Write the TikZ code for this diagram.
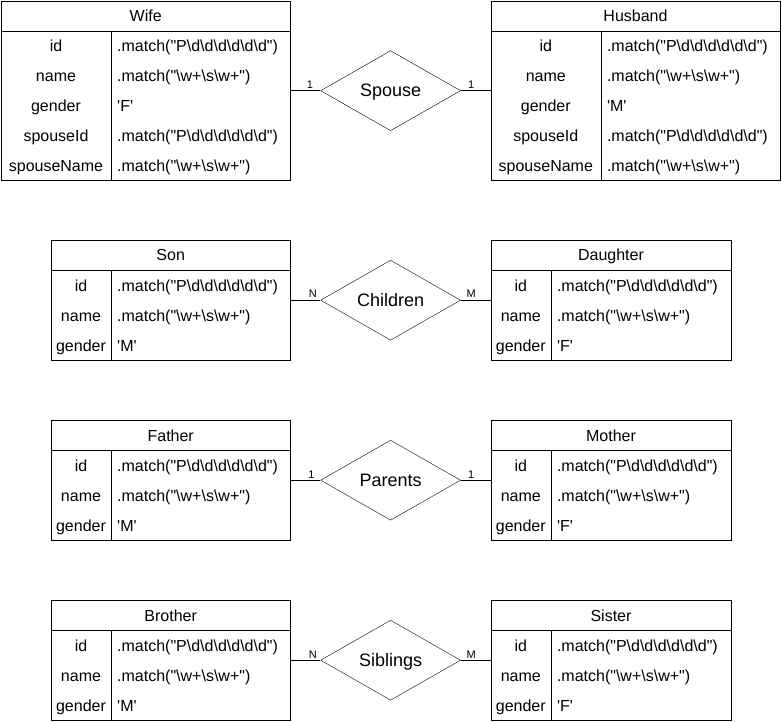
\documentclass[tikz,border=0pt]{standalone}
\usepackage{fontspec}
\setmainfont{Liberation Sans}
\usetikzlibrary{shapes.geometric,positioning}

\newcommand{\pid}{.match(\textquotedbl P\textbackslash d\textbackslash d\textbackslash d\textbackslash d\textbackslash d\textbackslash d\textquotedbl)}
\newcommand{\pname}{.match(\textquotedbl\textbackslash w+\textbackslash s\textbackslash w+\textquotedbl)}
\newcommand{\sq}[1]{\textquotesingle#1\textquotesingle}

% one table: name, placement, width, height, key column, title, rows
\newcommand{\entity}[7]{%
  \node[tbl, minimum width=#3, minimum height=#4, #2] (#1) {};
  \node[cell] (#1-title) at ([yshift=-15pt]#1.north) {#6};
  \draw ([yshift=-30pt]#1.north west) -- ([yshift=-30pt]#1.north east);
  \draw ([xshift=#5, yshift=-30pt]#1.north west) -- ([xshift=#5]#1.south west);
  \foreach \k/\v [count=\i] in {#7} {
    \node[cell] (#1-k\i) at ([xshift=#5/2, yshift=-15pt-30pt*\i]#1.north west) {\k};
    \node[cell, anchor=west] (#1-v\i) at ([xshift=#5+6pt, yshift=-15pt-30pt*\i]#1.north west) {\v};
  }%
}

\begin{document}
\begin{tikzpicture}[
  x=1pt,y=-1pt,
  tbl/.style={draw, inner sep=0pt},
  cell/.style={inner sep=0pt, text height=12pt, text depth=0pt, font=\fontsize{16}{19}\selectfont},
  rel/.style={draw, diamond, inner sep=0pt, minimum width=140pt, minimum height=80pt,
    text height=12pt, text depth=0pt, font=\fontsize{18}{21}\selectfont},
  card/.style={inner sep=2pt, font=\fontsize{11}{13}\selectfont}
]
\useasboundingbox (0,0) rectangle (782,722);

% Spouse
\entity{wife}{at={(1,1)}, anchor=north west}{289pt}{179pt}{110pt}{Wife}
  {id/\pid, name/\pname, gender/\sq{F}, spouseId/\pid, spouseName/\pname}
\node[rel, right=30pt of wife] (spouse) {Spouse};
\entity{husband}{right=30pt of spouse}{289pt}{179pt}{110pt}{Husband}
  {id/\pid, name/\pname, gender/\sq{M}, spouseId/\pid, spouseName/\pname}
\draw (wife.east) -- node[card, pos=0.65, above] (spouse-l) {1} (spouse.west);
\draw (spouse.east) -- node[card, pos=0.35, above] (spouse-r) {1} (husband.west);

% Children
\entity{son}{at={(51,240)}, anchor=north west}{239pt}{120pt}{60pt}{Son}
  {id/\pid, name/\pname, gender/\sq{M}}
\node[rel, right=30pt of son] (children) {Children};
\entity{daughter}{right=30pt of children}{240pt}{120pt}{60pt}{Daughter}
  {id/\pid, name/\pname, gender/\sq{F}}
\draw (son.east) -- node[card, pos=0.75, above] (children-l) {N} (children.west);
\draw (children.east) -- node[card, pos=0.35, above] (children-r) {M} (daughter.west);

% Parents
\entity{father}{at={(51,420)}, anchor=north west}{239pt}{120pt}{60pt}{Father}
  {id/\pid, name/\pname, gender/\sq{M}}
\node[rel, right=30pt of father] (parents) {Parents};
\entity{mother}{right=30pt of parents}{240pt}{120pt}{60pt}{Mother}
  {id/\pid, name/\pname, gender/\sq{F}}
\draw (father.east) -- node[card, pos=0.7, above] (parents-l) {1} (parents.west);
\draw (parents.east) -- node[card, pos=0.35, above] (parents-r) {1} (mother.west);

% Siblings
\entity{brother}{at={(51,600)}, anchor=north west}{239pt}{120pt}{60pt}{Brother}
  {id/\pid, name/\pname, gender/\sq{M}}
\node[rel, right=30pt of brother] (siblings) {Siblings};
\entity{sister}{right=30pt of siblings}{240pt}{120pt}{60pt}{Sister}
  {id/\pid, name/\pname, gender/\sq{F}}
\draw (brother.east) -- node[card, pos=0.75, above] (siblings-l) {N} (siblings.west);
\draw (siblings.east) -- node[card, pos=0.35, above] (siblings-r) {M} (sister.west);
\end{tikzpicture}
\end{document}
